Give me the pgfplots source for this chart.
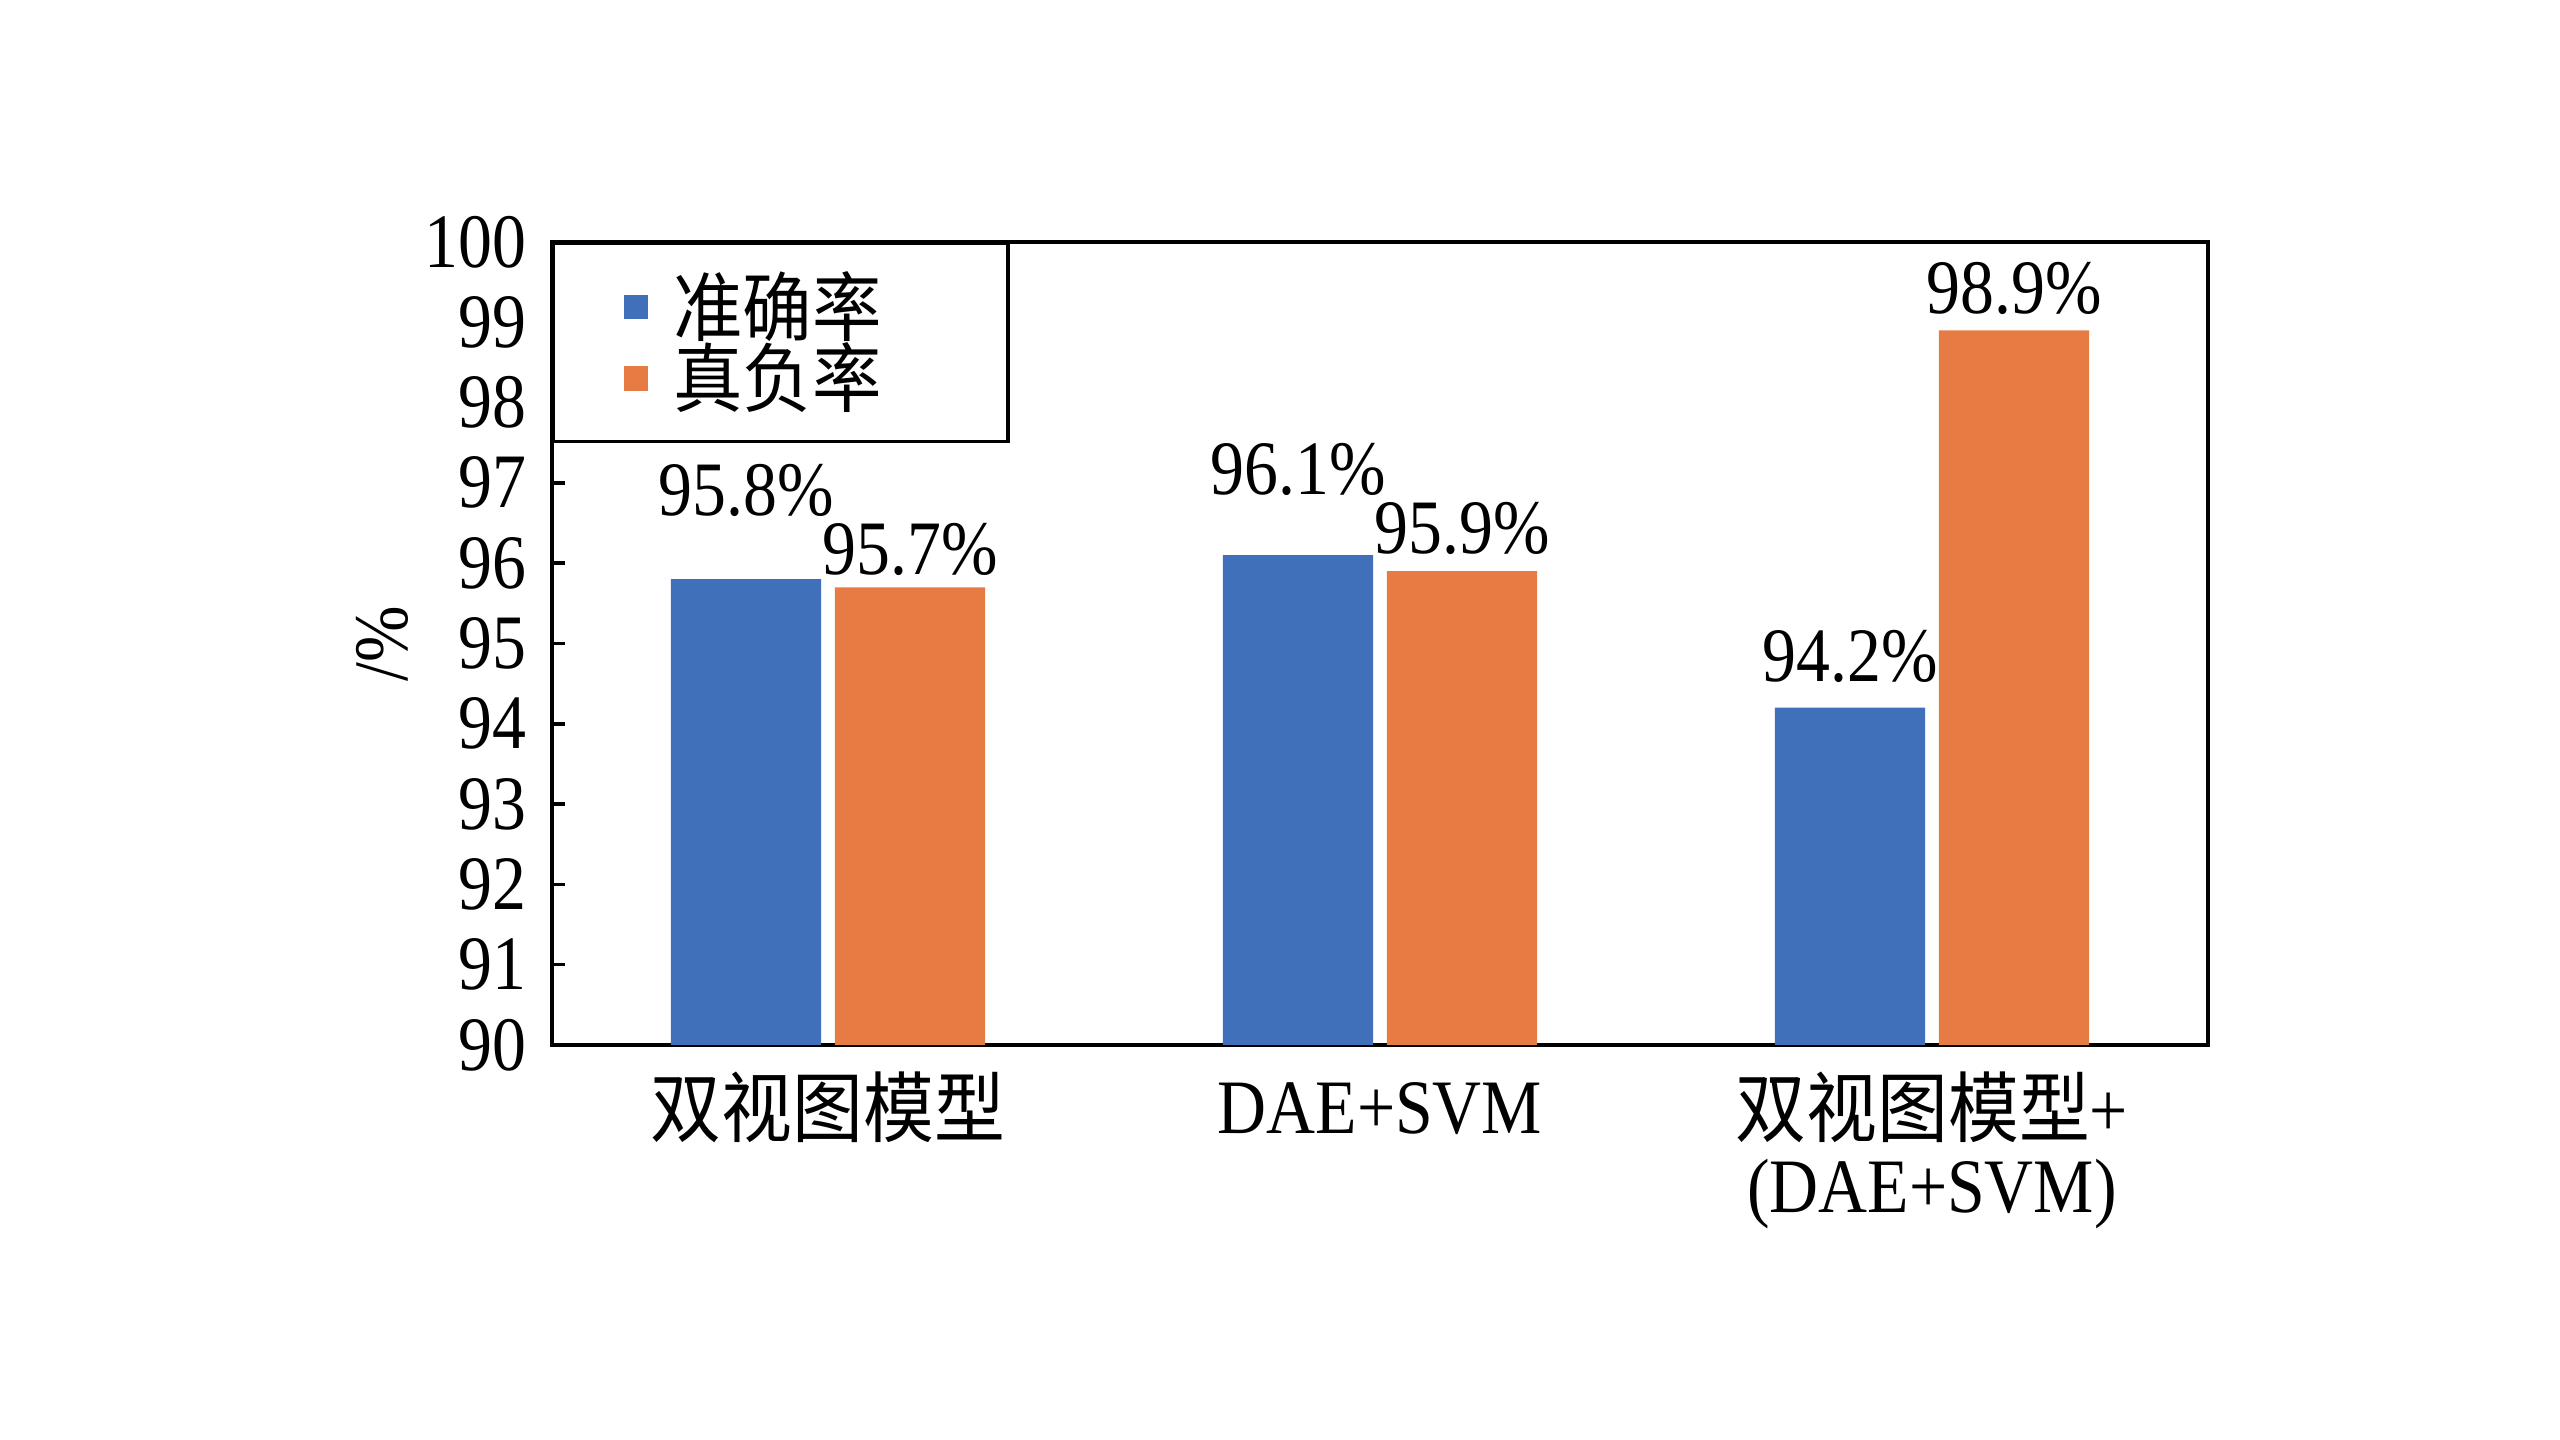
\documentclass[border=0pt]{standalone}
\usepackage{fontspec}
\setmainfont{Liberation Serif}[FakeStretch=0.88]
\newfontfamily\cjk{Noto Sans CJK SC}[FakeStretch=0.92]
\usepackage{pgfplots}
\usepackage{pgfplotstable}
\pgfplotsset{compat=1.18}
\definecolor{cblue}{RGB}{63,112,185}
\definecolor{corange}{RGB}{230,123,68}
\pgfplotstableread{
x y dy
0 95.8 12.8
1 96.1 12.2
2 94.2 5.2
}\acc
\pgfplotstableread{
x y dy
0 95.7 2.6
1 95.9 3.6
2 98.9 3.4
}\tnr
\begin{document}
\begin{tikzpicture}
\path[use as bounding box] (-110.4pt,-79pt) rectangle (401.6pt,209pt);
\begin{axis}[
  at={(0,0)}, anchor=south west,
  scale only axis, width=331.2pt, height=160.6pt,
  font=\fontsize{15.4}{15.2}\selectfont,
  /pgf/number format/assume math mode=true,
  ybar, bar width=0.272,
  xmin=-0.5, xmax=2.5, ymin=90, ymax=100,
  ytick={90,91,...,100},
  xtick={0,1,2},
  xticklabels={{\rule{0pt}{12.5pt}{\cjk 双视图模型}},{\rule{0pt}{12.5pt}DAE+SVM},{\rule{0pt}{12.5pt}{\cjk 双视图模型}+\\(DAE+SVM)}},
  xticklabel style={align=center, anchor=north, inner sep=0pt, yshift=-5.1pt},
  yticklabel style={anchor=east, inner sep=0pt, xshift=-5pt},
  x tick style={draw=none},
  ytick pos=left,
  tick align=inside,
  major tick length=2.6pt,
  tick style={line width=0.7pt, black},
  axis line style={line width=0.7pt},
  ylabel={/\%},
  ylabel style={at={(axis description cs:0,0.5)}, anchor=center, yshift=34pt, inner sep=0pt},
  legend style={at={(0,1)}, anchor=north west, draw=black, line width=0.7pt,
    inner xsep=14pt, inner ysep=5.5pt, row sep=0pt, column sep=5pt,
    nodes={inner sep=0pt}, cells={anchor=west}, font=\fontsize{15.1}{15}\selectfont\cjk},
  legend image code/.code={\fill[#1,draw=none] (0pt,-2.45pt) rectangle (4.9pt,2.45pt);},
  visualization depends on={\thisrow{dy}\as\dy},
  nodes near coords={\pgfmathprintnumber[fixed,precision=1,fixed zerofill]{\pgfplotspointmeta}\%},
  nodes near coords style={anchor=base, inner sep=0pt, yshift=\dy pt, black},
]
\addplot[fill=cblue, draw=none, bar shift=-0.1486] table[x=x,y=y]{\acc};
\addlegendentry{\makebox[53pt][l]{准确率}}
\addplot[fill=corange, draw=none, bar shift=0.1486] table[x=x,y=y]{\tnr};
\addlegendentry{\makebox[53pt][l]{真负率}}
\end{axis}
\end{tikzpicture}
\end{document}
